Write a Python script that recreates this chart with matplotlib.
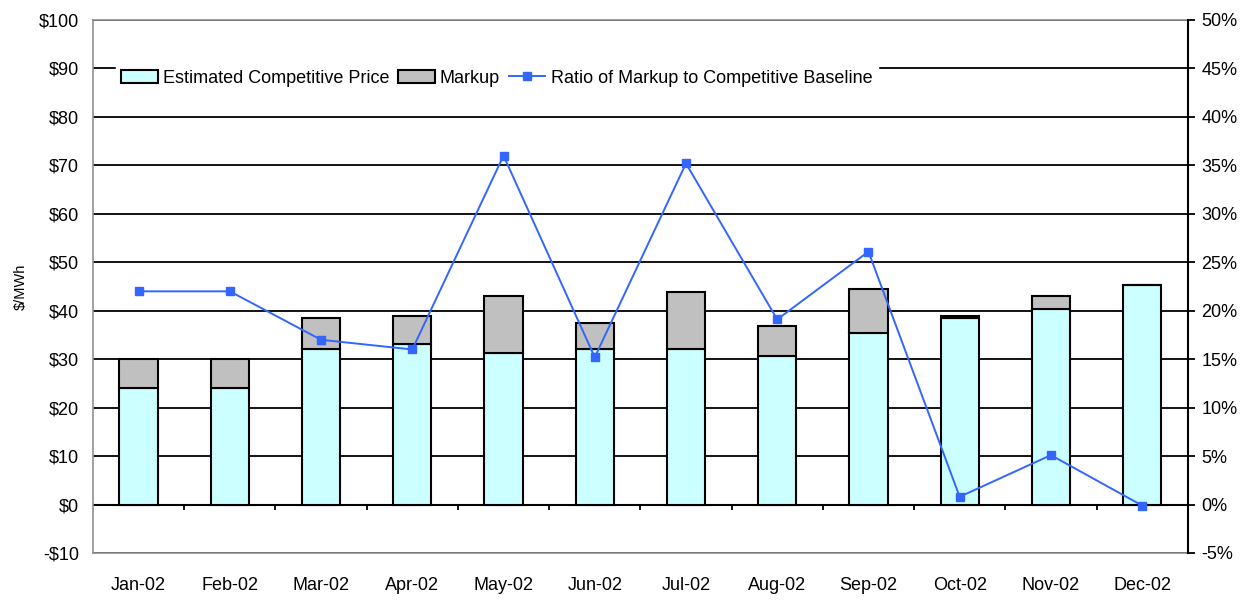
import matplotlib

matplotlib.use("Agg")
import matplotlib.pyplot as plt
from matplotlib.ticker import FuncFormatter, MultipleLocator

months = ["Jan-02", "Feb-02", "Mar-02", "Apr-02", "May-02", "Jun-02",
          "Jul-02", "Aug-02", "Sep-02", "Oct-02", "Nov-02", "Dec-02"]
competitive = [24.1, 24.1, 32.2, 33.2, 31.2, 32.2, 32.2, 30.7, 35.4, 38.5, 40.4, 45.4]
markup = [5.9, 5.9, 6.2, 5.7, 11.8, 5.3, 11.7, 6.1, 9.0, 0.4, 2.6, 0.0]
ratio_pct = [22.0, 22.0, 17.0, 16.0, 36.0, 15.2, 35.2, 19.1, 26.1, 0.8, 5.1, -0.1]

plt.rcParams.update({
    "font.family": ["Liberation Sans", "DejaVu Sans"],
    "font.size": 13,
})

fig = plt.figure(figsize=(12.45, 6.02), dpi=100, facecolor="white")
ax = fig.add_axes([0.0747, 0.0814, 0.8793, 0.8854])

x = list(range(len(months)))
cyan = "#ccffff"
grey = "#c0c0c0"
blue = "#3366ff"

ax.bar(x, competitive, width=0.42, color=cyan, edgecolor="black", linewidth=1.5,
       zorder=3, label="Estimated Competitive Price")
ax.bar(x, markup, width=0.42, bottom=competitive, color=grey, edgecolor="black",
       linewidth=1.5, zorder=3, label="Markup")

ax.set_xlim(-0.5, len(months) - 0.5)
ax.set_ylim(-10, 100)
ax.yaxis.set_major_locator(MultipleLocator(10))
ax.yaxis.set_major_formatter(FuncFormatter(lambda v, _: f"-${-v:.0f}" if v < 0 else f"${v:.0f}"))
ax.grid(axis="y", color="black", linewidth=1.3, zorder=1)
ax.axhline(0, color="black", linewidth=1.5, zorder=2)
# category separators hanging below the zero line
ax.vlines([i + 0.5 for i in x[:-1]], 0, -1.2, color="black", linewidth=1.3, zorder=2)
ax.set_xticks(x)
ax.set_xticklabels(months)
ax.tick_params(axis="x", length=0, pad=17)
ax.tick_params(axis="y", length=0, pad=10)
ax.set_ylabel("$/MWh", fontsize=10.5, labelpad=8)
for spine in ax.spines.values():
    spine.set_color("#909090")
    spine.set_linewidth(1.2)

ax2 = ax.twinx()
ax2.plot(x, ratio_pct, color=blue, linewidth=1.4, marker="s", markersize=6,
         zorder=4, label="Ratio of Markup to Competitive Baseline")
ax2.set_ylim(-5, 50)
ax2.yaxis.set_major_locator(MultipleLocator(5))
ax2.yaxis.set_major_formatter(FuncFormatter(lambda v, _: f"{v:.0f}%"))
ax2.tick_params(axis="y", length=5, width=1.3, color="black", pad=5)
for name, spine in ax2.spines.items():
    spine.set_visible(name == "right")
ax2.spines["right"].set_color("black")
ax2.spines["right"].set_linewidth(1.5)

handles, labels = ax.get_legend_handles_labels()
h2, l2 = ax2.get_legend_handles_labels()
leg = ax2.legend(handles + h2, labels + l2, loc="center left", bbox_to_anchor=(0.021, 0.891),
                 ncol=3, frameon=True, fancybox=False, edgecolor="white", framealpha=1,
                 handlelength=2.0, handleheight=0.7, handletextpad=0.3, columnspacing=0.5,
                 borderpad=0.3, borderaxespad=0, fontsize=13)
leg.set_zorder(10)

fig.savefig("out.png", dpi=100, facecolor="white")
